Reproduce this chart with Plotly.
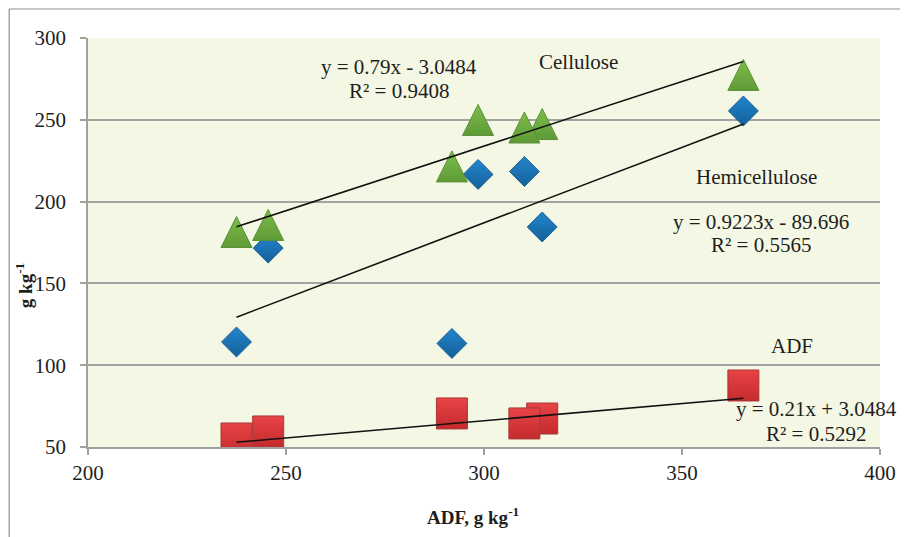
import plotly.graph_objects as go

# ---- data ----
adf = [237.5, 245.5, 291.9, 298.5, 314.7, 310.2, 365.5]
cellulose = [181.4, 185.7, 221.5, 249.9, 247.4, 245.3, 277.4]
hemicellulose = [114.2, 171.6, 113.3, 216.6, 184.5, 218.4, 255.4]
adf_part = [55.2, 59.5, 70.5, 48.6, 67.4, 64.4, 87.6]

series_names = ["Cellulose", "Hemicellulose", "ADF"]
slopes = [0.79, 0.9223, 0.21]
intercepts = [-3.0484, -89.696, 3.0484]
r_squared = [0.9408, 0.5565, 0.5292]

x_ticks = [200, 250, 300, 350, 400]
y_ticks = [50, 100, 150, 200, 250, 300]

X_MIN, X_MAX = 200, 400
Y_MIN, Y_MAX = 50, 300

FONT = "Liberation Serif"
TXT = "#1e1e1e"

fig = go.Figure()


def visible(xs, ys):
    # like the original spreadsheet chart, points outside the axis range are not drawn
    pts = [(a, b) for a, b in zip(xs, ys) if Y_MIN <= b <= Y_MAX]
    return [p[0] for p in pts], [p[1] for p in pts]


# Hemicellulose (blue diamonds)
hx, hy = visible(adf, hemicellulose)
fig.add_trace(go.Scatter(
    x=hx, y=hy, mode="markers", name="Hemicellulose",
    marker=dict(symbol="diamond", size=23, color="#2385CC",
                gradient=dict(type="vertical", color="#14609A"),
                line=dict(color="#1A5F93", width=1)),
))

# ADF part (red squares)
ax, ay = visible(adf, adf_part)
fig.add_trace(go.Scatter(
    x=ax, y=ay, mode="markers", name="ADF",
    marker=dict(symbol="square", size=31, color="#E84446",
                gradient=dict(type="vertical", color="#C42A2D"),
                line=dict(color="#A8383A", width=1)),
))

# Cellulose (green triangles)
cx, cy = visible(adf, cellulose)
fig.add_trace(go.Scatter(
    x=cx, y=cy, mode="markers", name="Cellulose",
    marker=dict(symbol="arrow-down", angle=180, standoff=15.5, size=31,
                color="#7DBE4C",
                gradient=dict(type="vertical", color="#5E9A36"),
                line=dict(color="#5C8E38", width=1)),
))

# linear trendlines from the fitted equations
x_lo, x_hi = min(adf), max(adf)
for m, b in zip(slopes, intercepts):
    fig.add_trace(go.Scatter(
        x=[x_lo, x_hi], y=[m * x_lo + b, m * x_hi + b], mode="lines",
        line=dict(color="#111111", width=1.6), hoverinfo="skip",
    ))


def eq_text(m, b):
    sign = "-" if b < 0 else "+"
    return f"y = {m:g}x {sign} {abs(b):g}"


# label positions (data coordinates)
label_pos = [(323.9, 285.5), (368.8, 215.2), (377.8, 111.7)]
eq_pos = [(278.5, 282.5, 267.8), (370.0, 187.7, 173.5), (383.9, 73.2, 57.9)]

for name, (lx, ly) in zip(series_names, label_pos):
    fig.add_annotation(x=lx, y=ly, text=name, showarrow=False,
                       xanchor="center", yanchor="middle",
                       font=dict(family=FONT, size=21, color=TXT))

for m, b, r2, (ex, ey1, ey2) in zip(slopes, intercepts, r_squared, eq_pos):
    fig.add_annotation(x=ex, y=ey1, text=eq_text(m, b), showarrow=False,
                       xanchor="center", yanchor="middle",
                       font=dict(family=FONT, size=21, color=TXT))
    fig.add_annotation(x=ex, y=ey2, text=f"R² = {r2:.4f}", showarrow=False,
                       xanchor="center", yanchor="middle",
                       font=dict(family=FONT, size=21, color=TXT))

# axis titles
fig.add_annotation(xref="paper", yref="paper", x=0.486, y=-0.1687,
                   xanchor="center", yanchor="middle",
                   text="<b>ADF, g kg<sup>-1</sup></b>", showarrow=False,
                   font=dict(family=FONT, size=19, color=TXT))
fig.add_annotation(xref="paper", yref="paper", x=-0.0806, y=0.3936,
                   xanchor="center", yanchor="middle",
                   text="<b>g kg<sup>-1</sup></b>", showarrow=False, textangle=-90,
                   font=dict(family=FONT, size=19, color=TXT))

# outer frame (top and left edges)
BORDER = "#8f8f8f"
fig.add_shape(type="line", xref="paper", yref="paper",
              x0=-0.0995, x1=1.0327, y0=1.0709, y1=1.0709,
              line=dict(color=BORDER, width=1.2))
fig.add_shape(type="line", xref="paper", yref="paper",
              x0=-0.0995, x1=-0.0995, y0=1.0709, y1=-0.22,
              line=dict(color=BORDER, width=1.2))

AXC = "#a0a0a0"
fig.update_xaxes(range=[X_MIN, X_MAX], tickvals=x_ticks, showgrid=False,
                 zeroline=False, showline=True, linecolor=AXC, linewidth=1.5,
                 ticks="outside", ticklen=6, tickcolor=AXC, tickwidth=1.5,
                 tickfont=dict(family=FONT, size=21, color=TXT))
fig.update_yaxes(range=[Y_MIN, Y_MAX], tickvals=y_ticks, showgrid=True,
                 gridcolor="#a3a3a3", gridwidth=1.5, zeroline=False,
                 showline=True, linecolor=AXC, linewidth=1.5,
                 ticks="outside", ticklen=6, tickcolor=AXC, tickwidth=1.5,
                 ticklabelstandoff=10,
                 tickfont=dict(family=FONT, size=21, color=TXT))

# the page puts the figure 8 px from the top-left corner of the window
fig.update_layout(
    width=900, height=529,
    margin=dict(l=80, r=26, t=30, b=90),
    plot_bgcolor="#F4F7E3", paper_bgcolor="white",
    showlegend=False,
)

fig.write_html("out.html")
